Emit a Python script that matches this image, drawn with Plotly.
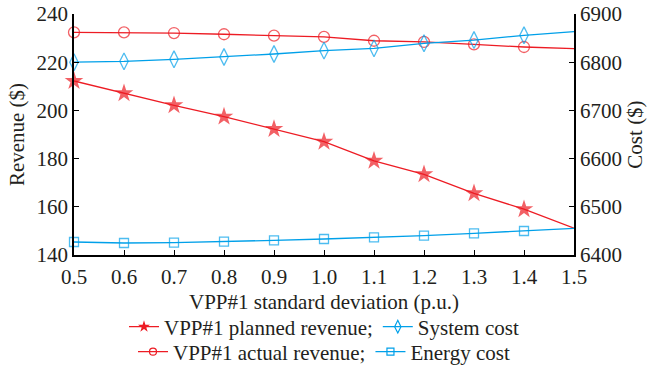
import plotly.graph_objects as go

# VPP#1 standard deviation (p.u.)
std_dev = [0.5, 0.6, 0.7, 0.8, 0.9, 1.0, 1.1, 1.2, 1.3, 1.4, 1.5]

# Revenue ($) – left axis
planned_revenue = [212.2, 207.1, 202.1, 197.4, 192.3, 187.0, 179.1, 173.5, 165.6, 159.0, 151.1]
actual_revenue = [232.4, 232.4, 232.1, 231.6, 231.0, 230.5, 228.9, 228.4, 227.4, 226.3, 225.6]

# Cost ($) – right axis
system_cost = [6800.0, 6801.8, 6806.0, 6810.8, 6817.0, 6823.9, 6828.8, 6839.2, 6846.0, 6855.8, 6863.3]
energy_cost = [6427.0, 6424.9, 6425.6, 6427.6, 6430.4, 6433.2, 6436.6, 6440.0, 6445.0, 6449.8, 6455.4]

RED = "#ED1C24"
BLUE = "#00A0E9"
TEXT = "#231F20"
FONT = "'Liberation Serif', 'Times New Roman', Times, serif"

series = [
    # name, values, axis, colour, symbol, plot marker size, legend marker size, legend
    ("VPP#1 planned revenue;", planned_revenue, "y", RED, "star", 14, 9, "legend"),
    ("System cost", system_cost, "y2", BLUE, "diamond-tall-open", 12, 9, "legend"),
    ("VPP#1 actual revenue;", actual_revenue, "y", RED, "circle-open", 11, 7, "legend2"),
    ("Energy cost", energy_cost, "y2", BLUE, "square-open", 9, 7, "legend2"),
]

fig = go.Figure()
n = len(std_dev)
for name, values, axis, color, symbol, size, lsize, leg in series:
    # data curve: markers on every sample except the last one
    fig.add_trace(go.Scatter(
        x=std_dev, y=values, name=name, yaxis=axis, showlegend=False,
        mode="lines+markers", line=dict(color=color, width=1.3),
        marker=dict(symbol=symbol, size=[size] * (n - 1) + [0], color=color,
                    line=dict(width=0 if symbol == "star" else 1.3)),
        cliponaxis=False))
    # legend key with a smaller marker
    fig.add_trace(go.Scatter(
        x=[None], y=[None], name=name, yaxis=axis, legend=leg,
        mode="lines+markers", line=dict(color=color, width=1.3),
        marker=dict(symbol=symbol, size=lsize, color=color,
                    line=dict(width=0 if symbol == "star" else 1.2))))

axis_common = dict(
    showline=True, linecolor="black", linewidth=1.6,
    ticks="inside", ticklen=5, tickwidth=1.4, tickcolor="black",
    showgrid=False, zeroline=False, automargin=False,
    tickfont=dict(family=FONT, size=21, color=TEXT),
)

legend_common = dict(
    orientation="h", xanchor="center", x=0.5, yanchor="middle", yref="container",
    font=dict(family=FONT, size=21, color=TEXT),
    bgcolor="rgba(0,0,0,0)", itemwidth=30, tracegroupgap=0,
)

fig.update_layout(
    width=650, height=368,
    margin=dict(l=74, r=76, t=14, b=113, autoexpand=False),
    paper_bgcolor="white", plot_bgcolor="white",
    font=dict(family=FONT, size=21, color=TEXT),
    xaxis=dict(
        range=[0.5, 1.5], dtick=0.1, tick0=0.5, tickformat=".1f",
        ticklabelstandoff=2,
        **axis_common),
    yaxis=dict(
        range=[140, 240], dtick=20,
        title=dict(text="Revenue ($)", standoff=6,
                   font=dict(family=FONT, size=21, color=TEXT)),
        **axis_common),
    yaxis2=dict(
        range=[6400, 6900], dtick=100, overlaying="y", side="right",
        title=dict(text="Cost ($)", standoff=6,
                   font=dict(family=FONT, size=21, color=TEXT)),
        **axis_common),
    legend=dict(y=1 - 327 / 368, **legend_common),
    legend2=dict(y=1 - 352 / 368, **legend_common),
    annotations=[dict(
        text="VPP#1 standard deviation (p.u.)", showarrow=False,
        xref="paper", yref="paper", x=0.5, y=-47 / 241,
        xanchor="center", yanchor="middle",
        font=dict(family=FONT, size=21, color=TEXT))],
)

fig.write_html("out.html")
